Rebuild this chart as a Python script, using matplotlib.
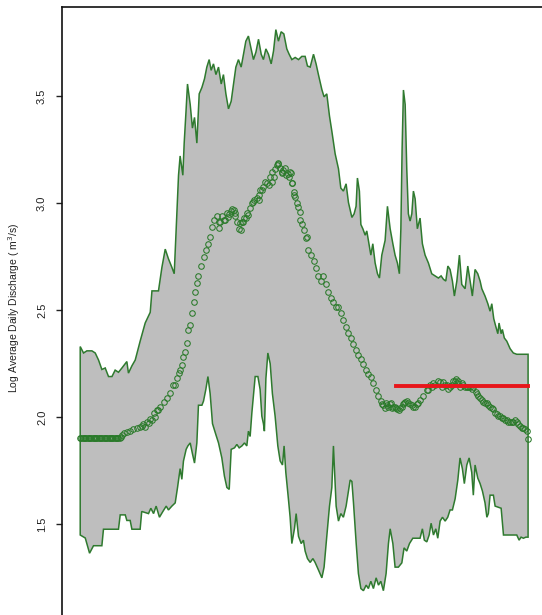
import numpy as np
import matplotlib
matplotlib.use("Agg")
import matplotlib.pyplot as plt

plt.rcParams['font.family'] = ['Liberation Sans', 'DejaVu Sans']

# daily maximum of the log discharge (day of year, value)
upper_day = [1, 3.7, 6.4, 10.5, 13.2, 15.9, 18.6, 21.3, 24, 26.8, 29.4, 32.1, 34.9, 38.9, 40.2,
             43, 45.7, 49.7, 53.8, 57.9, 59.3, 64.6, 67.4, 70.1, 72.7, 75.5, 77.4, 79, 80.9,
             82.2, 84.4, 85.5, 86.9, 88.2, 90.4, 92.2, 93.9, 95.8, 97.7, 99.9, 102, 103.9,
             105.8, 107.4, 109.3, 111.3, 113.4, 115.6, 117.4, 119.4, 121.5, 123.7, 125.6,
             127.5, 129.6, 131.8, 133.7, 135.6, 137.7, 139.9, 141.8, 143.8, 145.9, 148.1,
             149.9, 151.9, 154, 156.2, 158.1, 160, 162.1, 164.3, 166.5, 168.9, 170.8, 173,
             175.7, 178.4, 181.1, 183.8, 185.7, 187.9, 190.6, 192.7, 194.6, 197.4, 199.2,
             201.4, 203.6, 205.5, 208.2, 210.9, 212.8, 214.9, 217.1, 219, 221.8, 223.6,
             225.2, 226.3, 227.9, 229.1, 230.7, 232.6, 233.9, 235.2, 237.2, 238.8, 240.7,
             242.6, 244.2, 246.1, 248.8, 250.7, 252.9, 255.1, 256.9, 258.8, 260.4, 261.6,
             262.6, 263.7, 265.1, 266.4, 267.7, 269.1, 270.5, 271.8, 273.2, 275, 277.2,
             279.1, 281.3, 284, 286.7, 289.4, 292.1, 294.3, 296.2, 298.1, 299.8, 301.6,
             303.5, 305.1, 307.1, 309.2, 311.1, 313.8, 316, 317.9, 319.7, 321.9, 324.1,
             326, 327.4, 330, 332.3, 334.1, 335.5, 337.1, 338.7, 340.4, 341.4, 343.1,
             344.1, 345.7, 347.7, 350.4, 353, 355.8, 365]
upper_val = [2.33, 2.30, 2.31, 2.31, 2.30, 2.267, 2.223, 2.23, 2.19, 2.19, 2.22, 2.21, 2.23,
             2.26, 2.206, 2.24, 2.267, 2.355, 2.44, 2.49, 2.59, 2.59, 2.70, 2.785, 2.74, 2.70,
             2.67, 2.88, 3.13, 3.22, 3.13, 3.28, 3.42, 3.556, 3.46, 3.35, 3.40, 3.28, 3.51,
             3.54, 3.58, 3.635, 3.67, 3.62, 3.65, 3.60, 3.635, 3.556, 3.60, 3.51, 3.44, 3.476,
             3.556, 3.635, 3.67, 3.635, 3.695, 3.756, 3.78, 3.72, 3.67, 3.705, 3.765, 3.695,
             3.67, 3.72, 3.695, 3.65, 3.71, 3.81, 3.756, 3.80, 3.79, 3.72, 3.695, 3.67, 3.68,
             3.67, 3.685, 3.685, 3.64, 3.635, 3.695, 3.65, 3.60, 3.53, 3.496, 3.51, 3.406,
             3.336, 3.23, 3.16, 3.07, 3.056, 3.09, 3.003, 2.933, 2.95, 2.985, 3.117, 3.056,
             2.90, 2.88, 2.85, 2.87, 2.826, 2.757, 2.81, 2.72, 2.67, 2.65, 2.757, 2.826,
             2.985, 2.88, 2.81, 2.757, 2.72, 2.67, 2.88, 3.25, 3.528, 3.46, 3.16, 2.95,
             2.916, 2.95, 3.056, 3.02, 2.88, 2.93, 2.81, 2.757, 2.72, 2.67, 2.66, 2.65, 2.66,
             2.644, 2.636, 2.706, 2.69, 2.636, 2.566, 2.636, 2.757, 2.62, 2.60, 2.706, 2.636,
             2.566, 2.69, 2.67, 2.636, 2.60, 2.566, 2.53, 2.495, 2.53, 2.46, 2.425, 2.39,
             2.44, 2.39, 2.41, 2.37, 2.355, 2.32, 2.30, 2.294, 2.294]

# daily minimum
lower_day = [1, 5.1, 8.6, 11.8, 18.6, 19.9, 32.1, 33.5, 37.6, 38.9, 41.6, 43, 49.7, 51, 56.5,
             58.4, 60.6, 62.7, 65.4, 68.2, 70.9, 72.7, 75.5, 78.2, 80.1, 82.2, 83.6, 84.9,
             87.1, 88.5, 90.4, 92.2, 93.9, 95.8, 97.1, 99.9, 101.2, 103.1, 104.8, 106.6,
             108.5, 111.3, 113.4, 116.1, 118.2, 120.2, 122.1, 123.7, 126.4, 128.3, 130.2,
             132.4, 134.5, 136.4, 137.7, 139.1, 140.5, 143.2, 145.4, 147.2, 148.6, 149.9,
             150.7, 151.9, 153.5, 155.4, 157.2, 159.4, 161.6, 163.5, 165.4, 166.7, 168.1,
             170.2, 171.6, 173, 175.1, 176.5, 178.4, 180.6, 182.4, 183.8, 185.7, 187.9,
             190.1, 191.9, 194.6, 197.4, 199.2, 201.4, 203.6, 205.5, 206.8, 209, 210.9,
             212.8, 214.9, 217.1, 219, 220.4, 221.8, 223.1, 225.3, 227.1, 229.1, 231.2,
             233.4, 235.2, 237.2, 239.3, 241.5, 243.4, 245.3, 247.4, 249.6, 251.5, 252.9,
             255.1, 256.9, 259.6, 262.4, 264.2, 266.4, 268.6, 271.3, 277.2, 279.1, 280.7,
             282.7, 284.6, 286.2, 288.1, 290, 291.6, 293.5, 295.4, 297.6, 299.7, 301.6,
             303.5, 305.7, 307.9, 309.7, 311.6, 313.2, 315.2, 317.1, 319.2, 320.5, 321.9,
             324.1, 326, 327.9, 330, 331.5, 332.7, 334.1, 336.8, 338.2, 343.1, 345, 355.8,
             357.7, 359.3, 361.2, 363.2, 365]
lower_val = [1.45, 1.436, 1.365, 1.40, 1.40, 1.477, 1.477, 1.544, 1.544, 1.518, 1.518, 1.477,
             1.477, 1.56, 1.55, 1.575, 1.55, 1.585, 1.533, 1.56, 1.585, 1.567, 1.585, 1.60,
             1.672, 1.76, 1.71, 1.795, 1.85, 1.866, 1.88, 1.83, 1.786, 1.88, 2.056, 2.056,
             2.075, 2.13, 2.19, 2.11, 1.97, 1.918, 1.88, 1.81, 1.725, 1.672, 1.663, 1.85,
             1.857, 1.873, 1.857, 1.866, 1.88, 1.866, 1.935, 1.91, 2.02, 2.19, 2.19, 2.13,
             2.005, 1.97, 1.935, 2.18, 2.30, 2.25, 2.11, 2.005, 1.866, 1.796, 1.777, 1.866,
             1.742, 1.619, 1.533, 1.41, 1.479, 1.55, 1.444, 1.41, 1.426, 1.375, 1.34, 1.322,
             1.34, 1.322, 1.287, 1.25, 1.30, 1.444, 1.585, 1.672, 1.866, 1.585, 1.515, 1.55,
             1.533, 1.585, 1.655, 1.707, 1.70, 1.60, 1.41, 1.27, 1.20, 1.19, 1.216, 1.20,
             1.234, 1.20, 1.25, 1.216, 1.234, 1.19, 1.27, 1.41, 1.479, 1.41, 1.30, 1.30,
             1.32, 1.39, 1.375, 1.41, 1.435, 1.435, 1.479, 1.426, 1.418, 1.45, 1.505, 1.45,
             1.479, 1.435, 1.515, 1.533, 1.515, 1.533, 1.567, 1.567, 1.619, 1.707, 1.81,
             1.76, 1.69, 1.777, 1.81, 1.742, 1.636, 1.777, 1.716, 1.69, 1.655, 1.60, 1.533,
             1.55, 1.636, 1.636, 1.585, 1.575, 1.45, 1.45, 1.426, 1.44, 1.435, 1.44, 1.44]

# daily mean: flat start (days 1-35), then (day, value) readings
flat_days = [1, 2, 3, 4, 5, 6, 7, 8, 9, 10, 11, 12, 13, 14, 15, 16, 17, 18,
             19, 20, 21, 22, 23, 24, 25, 26, 27, 28, 29, 30, 31, 32, 33, 34, 35]
flat_vals = [1.904, 1.904, 1.904, 1.904, 1.904, 1.904, 1.904, 1.904, 1.904, 1.904,
             1.904, 1.904, 1.904, 1.904, 1.904, 1.904, 1.904, 1.904, 1.904, 1.904,
             1.904, 1.904, 1.904, 1.904, 1.904, 1.904, 1.904, 1.904, 1.904, 1.904,
             1.904, 1.904, 1.905, 1.910, 1.917]
mean_pts = [
    (36.2, 1.925), (38.9, 1.933), (41.6, 1.938), (44.3, 1.947), (47.1, 1.95), (49.7, 1.955),
    (51.1, 1.959), (52.4, 1.97), (53.8, 1.956), (55.2, 1.98), (56.5, 1.972), (57.9, 1.99),
    (59.3, 1.987), (60.6, 2.02), (61.9, 2.002), (63.3, 2.035), (64.6, 2.034), (66, 2.05),
    (68.7, 2.07), (71.4, 2.09), (74.1, 2.115), (76.8, 2.15), (78.2, 2.15), (79.6, 2.185),
    (80.9, 2.205), (82.2, 2.22), (83.6, 2.245), (84.9, 2.28), (86.3, 2.305), (87.7, 2.345),
    (89, 2.405), (90.4, 2.43), (91.8, 2.488), (93.1, 2.54), (94.4, 2.585), (95.8, 2.627),
    (97.1, 2.66), (99.3, 2.705), (101.2, 2.747), (103.1, 2.78), (104.8, 2.808), (106.6, 2.843),
    (108.5, 2.886), (110.1, 2.92), (112.1, 2.94), (113.4, 2.882), (113.9, 2.912), (114.7, 2.913),
    (116.1, 2.94), (118.2, 2.92), (118.8, 2.92), (120.2, 2.955), (121.5, 2.936), (122.1, 2.947),
    (123.7, 2.965), (124.3, 2.973), (125.6, 2.968), (126.4, 2.94), (127, 2.952), (128.3, 2.91),
    (130.2, 2.88), (131, 2.905), (131.8, 2.874), (132.4, 2.912), (133.7, 2.913), (134.5, 2.93),
    (135.6, 2.929), (136.4, 2.955), (137.7, 2.944), (139.1, 2.978), (141, 2.999), (141.8, 3.007),
    (142.6, 3.014), (144.6, 3.026), (145.9, 3.038), (146.4, 3.014), (147.2, 3.06), (148.6, 3.06),
    (149.9, 3.077), (151.3, 3.10), (152.7, 3.096), (154.6, 3.084), (155.4, 3.12), (156.8, 3.10),
    (157.2, 3.146), (158.1, 3.123), (159.4, 3.158), (160.8, 3.178), (161.6, 3.184), (162.1, 3.186),
    (163.5, 3.163), (164.9, 3.139), (165.4, 3.146), (166.2, 3.154), (167.6, 3.164), (168.1, 3.131),
    (169.8, 3.138), (170.8, 3.123), (171.6, 3.146), (172.4, 3.139), (173, 3.094), (173.5, 3.092),
    (174.6, 3.053), (175.1, 3.04), (175.7, 3.03), (177.1, 3.0), (178.4, 2.983), (179.7, 2.96),
    (180, 2.92), (181.6, 2.90), (183.2, 2.872), (184.6, 2.835), (185.2, 2.843), (186.5, 2.783),
    (188.4, 2.757), (190.6, 2.73), (192.7, 2.697), (194.6, 2.66), (196.6, 2.636), (198.7, 2.66),
    (200.9, 2.62), (202.7, 2.585), (204.7, 2.558), (206.8, 2.54), (209, 2.515), (210.9, 2.515),
    (212.8, 2.488), (214.9, 2.454), (217.1, 2.42), (219, 2.393), (220.9, 2.368), (223.1, 2.342),
    (225.2, 2.316), (227.1, 2.29), (229.1, 2.272), (231.2, 2.247), (233.4, 2.22), (235.2, 2.203),
    (237.2, 2.186), (239.3, 2.16), (241.5, 2.125), (243.4, 2.10), (245.3, 2.075), (246.4, 2.06),
    (247.4, 2.055), (248.4, 2.045), (249.6, 2.065), (250.4, 2.055), (251.5, 2.05), (252.5, 2.06),
    (253.4, 2.065), (254.5, 2.045), (255.5, 2.05), (256.5, 2.05), (257.7, 2.045), (258.6, 2.04),
    (259.9, 2.035), (261, 2.045), (262.4, 2.05), (263.2, 2.06), (264.2, 2.065), (265.1, 2.07),
    (266.4, 2.075), (267.5, 2.065), (269.1, 2.06), (270.4, 2.055), (271.8, 2.05), (273.2, 2.05),
    (274.5, 2.06), (275.6, 2.065), (277.2, 2.08), (279.9, 2.10), (282.7, 2.125), (284, 2.125),
    (285.4, 2.15), (286.7, 2.143), (288.1, 2.16), (289.4, 2.151), (292.1, 2.169), (293.5, 2.164),
    (294.9, 2.143), (296.2, 2.164), (297.6, 2.151), (299, 2.151), (300.2, 2.134), (301.6, 2.143),
    (303, 2.151), (304.3, 2.169), (305.7, 2.169), (306.3, 2.177), (307.1, 2.16), (308.4, 2.169),
    (309.7, 2.143), (311.1, 2.16), (312.4, 2.151), (313.8, 2.143), (315.2, 2.143), (316.5, 2.143),
    (317.9, 2.143), (319.2, 2.134), (320.5, 2.143), (322.5, 2.117), (323.3, 2.108), (324.6, 2.10),
    (326, 2.091), (327.4, 2.082), (328.7, 2.073), (330, 2.065), (331.5, 2.065), (332.7, 2.056),
    (334.1, 2.048), (335.5, 2.045), (336.8, 2.039), (338.2, 2.022), (339.6, 2.013), (340.9, 2.004),
    (342.2, 2.004), (343.6, 1.996), (345, 1.996), (346.3, 1.987), (347.7, 1.987), (349, 1.978),
    (350.4, 1.978), (351.7, 1.978), (353.1, 1.978), (354.4, 1.987), (355.8, 1.978), (357.1, 1.97),
    (358.5, 1.961), (359.9, 1.952), (361.2, 1.952), (362.6, 1.944), (363.9, 1.935), (364.7, 1.90),
]

# reference level (red segment)
ref_start = 258
ref_end = 365
ref_val = 2.145

yticks = [1.5, 2.0, 2.5, 3.0, 3.5]

mean_day = flat_days + [p[0] for p in mean_pts]
mean_val = flat_vals + [p[1] for p in mean_pts]

fig = plt.figure(figsize=(5.42, 6.15), dpi=100)
ax = fig.add_axes([62.3 / 542, 0.0, 483.7 / 542, 1 - 7 / 615])

poly_x = np.concatenate([upper_day, lower_day[::-1]])
poly_y = np.concatenate([upper_val, lower_val[::-1]])
ax.fill(poly_x, poly_y, facecolor='#bebebe', edgecolor='#2f7a2f', linewidth=1.1, zorder=1)

ax.plot(mean_day, mean_val, linestyle='none', marker='o', markersize=4.0,
        markerfacecolor='none', markeredgecolor='#2a7a2a', markeredgewidth=0.75, zorder=2)

ax.plot([ref_start, ref_end], [ref_val, ref_val], color='#e8161b', linewidth=2.8, zorder=3)

ax.set_xlim(1 - 0.04 * 364, 365 + 0.04 * 364)
ax.set_ylim(1.0765, 3.9156)
ax.set_xticks([])
ax.set_yticks(yticks)
ax.set_yticklabels([f"{v:.1f}" for v in yticks])
ax.tick_params(axis='y', labelrotation=90, length=4, width=1, pad=7,
               labelsize=8, colors='#222222')
for lbl in ax.get_yticklabels():
    lbl.set_va('center')

for side in ['left', 'top', 'right']:
    ax.spines[side].set_linewidth(1.2)
    ax.spines[side].set_color('#111111')
ax.spines['bottom'].set_visible(False)

fig.text(14.5 / 542, 0.5, 'Log Average Daily Discharge ( m$^3$/s)', rotation=90,
         ha='center', va='center', fontsize=7.5, color='#222222')

fig.savefig('out.png', dpi=100)
